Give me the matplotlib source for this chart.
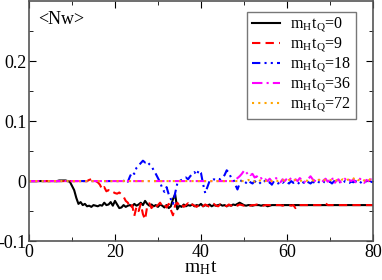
import matplotlib
matplotlib.use('Agg')
import matplotlib.pyplot as plt
import numpy as np

plt.rcParams['font.family'] = 'Liberation Serif'
plt.rcParams['mathtext.fontset'] = 'stix'

# time grid m_H t, step 0.5 (161 points), one row below = 5 time units
t = np.arange(0, 80.5, 0.5)

nw_0 = [
    0, 0, 0, 0, 0, 0, 0, 0, 0, 0,
    0, 0, 0, 0, 0.001, 0.001, 0.001, 0.001, 0, -0.001,
    -0.008, -0.015, -0.028, -0.038, -0.035, -0.040, -0.038, -0.042, -0.041, -0.043,
    -0.040, -0.041, -0.042, -0.040, -0.041, -0.036, -0.040, -0.039, -0.035, -0.041,
    -0.033, -0.039, -0.045, -0.044, -0.040, -0.043, -0.041, -0.040, -0.042, -0.038,
    -0.041, -0.039, -0.036, -0.040, -0.033, -0.038, -0.041, -0.039, -0.042, -0.040,
    -0.043, -0.039, -0.041, -0.044, -0.040, -0.045, -0.042, -0.030, -0.022, -0.047,
    -0.041, -0.043, -0.039, -0.042, -0.040, -0.041, -0.039, -0.042, -0.040, -0.041,
    -0.038, -0.042, -0.040, -0.041, -0.039, -0.042, -0.040, -0.041, -0.040, -0.039,
    -0.041, -0.040, -0.042, -0.040, -0.041, -0.039, -0.040, -0.038, -0.036, -0.038,
    -0.040, -0.041, -0.040, -0.040, -0.041, -0.040, -0.040, -0.040, -0.041, -0.040,
    -0.040, -0.042, -0.041, -0.040, -0.040, -0.040, -0.040, -0.040, -0.040, -0.040,
    -0.040, -0.040, -0.040, -0.040, -0.040, -0.040, -0.040, -0.040, -0.040, -0.040,
    -0.040, -0.040, -0.040, -0.040, -0.040, -0.040, -0.040, -0.040, -0.040, -0.040,
    -0.040, -0.040, -0.040, -0.040, -0.040, -0.040, -0.040, -0.040, -0.040, -0.040,
    -0.040, -0.040, -0.040, -0.040, -0.040, -0.040, -0.040, -0.040, -0.040, -0.040,
    -0.040]

nw_9 = [
    0, 0, 0, 0, 0, 0, 0, 0, 0, 0,
    0, 0, 0, 0, 0, 0, 0, 0, 0, 0,
    0, 0, 0, 0, 0, 0, 0, 0, 0.002, 0.003,
    0.002, 0, -0.002, -0.006, -0.014, -0.010, -0.017, -0.015, -0.019, -0.018,
    -0.020, -0.021, -0.019, -0.022, -0.026, -0.033, -0.036, -0.045, -0.040, -0.058,
    -0.043, -0.050, -0.038, -0.055, -0.064, -0.042, -0.037, -0.045, -0.039, -0.043,
    -0.040, -0.036, -0.042, -0.039, -0.044, -0.038, -0.048, -0.057, -0.040, -0.036,
    -0.041, -0.038, -0.043, -0.040, -0.037, -0.042, -0.039, -0.041, -0.043, -0.040,
    -0.038, -0.042, -0.039, -0.041, -0.043, -0.040, -0.038, -0.041, -0.042, -0.039,
    -0.041, -0.040, -0.042, -0.039, -0.041, -0.040, -0.038, -0.041, -0.039, -0.040,
    -0.041, -0.040, -0.040, -0.041, -0.040, -0.040, -0.039, -0.040, -0.040, -0.041,
    -0.040, -0.040, -0.040, -0.040, -0.039, -0.040, -0.040, -0.040, -0.041, -0.040,
    -0.040, -0.040, -0.041, -0.040, -0.045, -0.040, -0.040, -0.040, -0.040, -0.040,
    -0.040, -0.040, -0.040, -0.040, -0.040, -0.040, -0.040, -0.040, -0.037, -0.040,
    -0.040, -0.040, -0.040, -0.040, -0.040, -0.040, -0.040, -0.040, -0.040, -0.040,
    -0.040, -0.040, -0.040, -0.040, -0.040, -0.040, -0.040, -0.040, -0.040, -0.040,
    -0.040]

nw_18 = [
    0, 0, 0, 0, 0, 0, 0, 0, 0, 0,
    0, 0, 0, 0, 0, 0, 0, 0, 0, 0,
    0, 0, 0, 0, 0, 0, 0, 0, 0, 0,
    0, 0, 0, 0, 0, 0, 0, 0, 0, 0,
    0, 0, 0, 0, 0.000, 0.003, -0.001, 0.008, 0.015, 0.012,
    0.022, 0.026, 0.030, 0.034, 0.031, 0.033, 0.028, 0.025, 0.018, 0.012,
    0.005, -0.002, -0.012, -0.018, -0.010, -0.022, -0.030, -0.038, -0.020, -0.004,
    0.000, 0.002, 0.004, 0.006, 0.003, 0.008, 0.012, 0.015, 0.010, 0.018,
    0.014, -0.005, -0.020, -0.010, 0.000, 0.001, 0.003, 0.002, 0.004, 0.003,
    0.006, 0.010, 0.018, 0.014, 0.006, 0.004, -0.006, -0.014, -0.004, 0.002,
    0.000, -0.003, 0.001, -0.002, -0.004, 0.000, -0.003, -0.001, -0.005, -0.002,
    0.001, -0.003, -0.002, -0.006, 0.000, -0.002, -0.004, -0.001, -0.003, 0.000,
    -0.002, -0.004, 0.000, -0.003, -0.001, -0.002, -0.005, -0.001, -0.003, 0.000,
    -0.002, -0.004, -0.001, -0.003, 0.000, -0.002, -0.004, -0.001, -0.003, -0.002,
    -0.001, -0.004, 0.000, -0.002, -0.003, -0.001, -0.004, 0.000, -0.002, -0.003,
    -0.001, -0.002, 0.000, -0.003, -0.001, -0.004, -0.002, 0.000, -0.003, -0.001,
    -0.002]

nw_36 = [
    0, 0, 0, 0, 0, 0, 0, 0, 0, 0,
    0, 0, 0, 0, 0, 0, 0, 0, 0, 0,
    0, 0, 0, 0, 0, 0, 0, 0, 0, 0,
    0, 0, 0, 0, 0, 0, 0, 0, 0, 0,
    0, 0, 0, 0, 0, 0, 0, 0, 0, 0,
    0, 0, 0, 0, 0, 0, 0, 0, 0, 0,
    0, 0, 0, 0, 0, 0, 0, 0, 0, 0,
    0, 0, 0, 0, 0, 0, 0, 0, 0, 0,
    0, 0, 0, 0, 0, 0, 0, 0, 0, 0,
    0, 0, 0, 0, 0, 0, 0.002, 0.005, 0.008, 0.012,
    0.017, 0.012, 0.015, 0.010, 0.012, 0.006, 0.008, 0.003, 0.005, 0.001,
    0.003, 0.000, 0.004, -0.001, 0.002, 0.005, 0.001, -0.002, 0.003, 0.000,
    0.004, 0.007, 0.002, -0.001, 0.003, 0.000, 0.005, 0.002, -0.002, 0.001,
    0.004, 0.008, 0.003, 0.000, 0.005, 0.002, -0.003, 0.001, 0.004, -0.001,
    0.002, 0.006, -0.004, 0.000, 0.003, -0.002, 0.001, 0.004, -0.001, 0.002,
    0.000, 0.003, -0.002, 0.001, 0.004, 0.000, -0.003, 0.002, 0.000, 0.003,
    0.001]

nw_72 = [
    0, 0, 0, 0, 0, 0, 0, 0, 0, 0,
    0, 0, 0, 0, 0, 0, 0, 0, 0, 0,
    0, 0, 0, 0, 0, 0, 0, 0, 0, 0,
    0, 0, 0, 0, 0, 0, 0, 0, 0, 0,
    0, 0, 0, 0, 0, 0, 0, 0, 0, 0,
    0, 0, 0, 0, 0, 0, 0, 0, 0, 0,
    0, 0, 0, 0, 0, 0, 0, 0, 0, 0,
    0, 0, 0, 0, 0, 0, 0, 0, 0, 0,
    0, 0, 0, 0, 0, 0, 0, 0, 0, 0,
    0, 0, 0, 0, 0, 0, 0, 0, 0, 0,
    0, 0.001, 0.002, 0, 0.001, -0.001, 0.001, 0, 0.002, 0.001,
    0, 0.002, 0.001, 0, 0.002, 0.001, 0, 0.001, 0.002, 0,
    0.001, 0.002, 0, 0.001, 0.002, 0.001, 0, 0.001, 0.002, 0.001,
    0, 0.002, 0.001, 0, 0.001, 0.002, 0, 0.001, 0.002, 0.001,
    0.002, 0.001, 0.003, 0.001, 0.002, 0.001, 0.003, 0.001, 0.002, 0.003,
    0.005, 0.004, 0.006, 0.002, 0.001, 0.003, 0.001, 0.002, 0.004, 0.001,
    0.002]

labels = ['m$_\\mathregular{H}$t$_\\mathregular{Q}$=0', 'm$_\\mathregular{H}$t$_\\mathregular{Q}$=9',
          'm$_\\mathregular{H}$t$_\\mathregular{Q}$=18', 'm$_\\mathregular{H}$t$_\\mathregular{Q}$=36',
          'm$_\\mathregular{H}$t$_\\mathregular{Q}$=72']

fig = plt.figure(figsize=(3.82, 2.80), dpi=100)
ax = fig.add_axes([0.076, 0.139, 0.900, 0.857])

ax.plot(t, nw_0, color='black', lw=1.5, label=labels[0])
ax.plot(t, nw_9, color='red', lw=1.5, dashes=(4, 2.5), label=labels[1])
ax.plot(t, nw_18, color='blue', lw=1.5, dashes=(4, 2, 1, 2, 1, 2), label=labels[2])
ax.plot(t, nw_36, color='magenta', lw=1.5, dashes=(5, 2, 1, 2), label=labels[3])
ax.plot(t, nw_72, color='orange', lw=1.5, dashes=(1, 2), label=labels[4])

ax.set_xlim(0, 80)
ax.set_ylim(-0.1, 0.3)
ax.set_xticks([0, 20, 40, 60, 80])
ax.set_xticks([10, 30, 50, 70], minor=True)
ax.set_yticks([-0.1, 0, 0.1, 0.2])
ax.set_yticklabels(['-0.1', '0', '0.1', '0.2'])
ax.set_yticks([-0.05, 0.05, 0.15, 0.25], minor=True)
ax.tick_params(which='both', direction='in', top=True, right=True, labelsize=13, pad=2)
ax.tick_params(which='major', length=5)
ax.tick_params(which='minor', length=3)
for s in ax.spines.values():
    s.set_color('#555555')
    s.set_linewidth(1.2)

ax.set_xlabel('m$_\\mathregular{H}$t', fontsize=14, labelpad=-1)
ax.text(0.025, 0.96, '<Nw>', transform=ax.transAxes, fontsize=13, va='top')

leg = ax.legend(loc='upper right', fontsize=11.5, frameon=True, fancybox=False,
                handlelength=1.8, labelspacing=0.12, borderpad=0.3, handletextpad=0.6,
                bbox_to_anchor=(0.975, 0.99))
leg.get_frame().set_edgecolor('#555555')
leg.get_frame().set_linewidth(1.0)

plt.savefig('out.png', dpi=100)
